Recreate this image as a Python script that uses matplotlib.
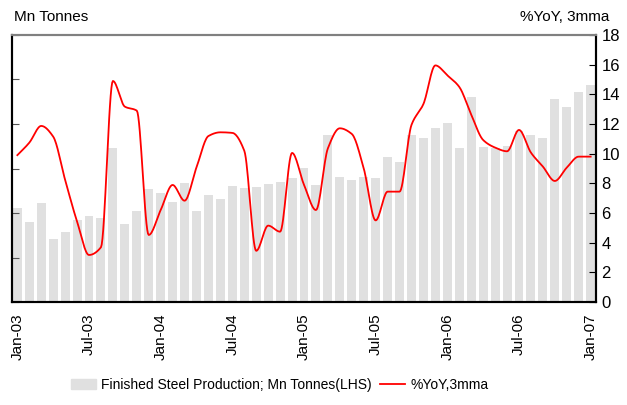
import numpy as np
import matplotlib
matplotlib.use("Agg")
import matplotlib.pyplot as plt
from matplotlib.patches import Patch
from matplotlib.lines import Line2D

plt.rcParams['font.family'] = ['Liberation Sans Narrow', 'Liberation Sans', 'DejaVu Sans']

# monthly, Jan-03 .. Jan-07
months = np.arange(49)
tick_labels = ['Jan-03', 'Jul-03', 'Jan-04', 'Jul-04', 'Jan-05',
               'Jul-05', 'Jan-06', 'Jul-06', 'Jan-07']

production = [6.36, 5.39, 6.67, 4.25, 4.72, 5.53, 5.80, 5.66, 10.38, 5.26,
              6.14, 7.62, 7.35, 6.74, 8.02, 6.14, 7.21, 6.94, 7.82, 7.69,
              7.75, 7.96, 8.09, 8.36, 9.03, 7.89, 11.28, 8.43, 8.23, 8.43,
              8.36, 9.78, 9.44, 11.28, 11.06, 11.73, 12.07, 10.38, 13.84, 10.45,
              10.38, 10.52, 11.5, 11.26, 11.06, 13.69, 13.15, 14.16, 14.65]

yoy_3mma = [9.9, 10.74, 11.87, 11.15, 8.23, 5.42, 3.17, 3.69, 14.9, 13.17,
            12.9, 4.52, 6.2, 7.89, 6.83, 9.08, 11.19, 11.44, 11.4, 10.2,
            3.45, 5.15, 4.74, 10.05, 7.9, 6.2, 10.36, 11.71, 11.33, 9.01,
            5.5, 7.44, 7.44, 11.94, 13.35, 15.95, 15.28, 14.5, 12.63, 10.92,
            10.41, 10.16, 11.6, 10.07, 9.13, 8.16, 9.06, 9.8, 9.8]


def smooth(x, y, n=16):
    # monotone cubic (pchip-style) so the curve does not overshoot
    x = np.asarray(x, float)
    y = np.asarray(y, float)
    h = np.diff(x)
    d = np.diff(y) / h
    m = np.zeros_like(y)
    for i in range(1, len(y) - 1):
        if d[i - 1] * d[i] > 0:
            w1 = 2 * h[i] + h[i - 1]
            w2 = h[i] + 2 * h[i - 1]
            m[i] = (w1 + w2) / (w1 / d[i - 1] + w2 / d[i])
    m[0] = d[0]
    m[-1] = d[-1]
    xs, ys = [], []
    t = np.linspace(0, 1, n, endpoint=False)
    for i in range(len(x) - 1):
        h00 = 2 * t ** 3 - 3 * t ** 2 + 1
        h10 = t ** 3 - 2 * t ** 2 + t
        h01 = -2 * t ** 3 + 3 * t ** 2
        h11 = t ** 3 - t ** 2
        xs.append(x[i] + t * h[i])
        ys.append(h00 * y[i] + h10 * h[i] * m[i] + h01 * y[i + 1] + h11 * h[i] * m[i + 1])
    xs.append([x[-1]])
    ys.append([y[-1]])
    return np.concatenate(xs), np.concatenate(ys)


fig = plt.figure(figsize=(6.27, 4.05), dpi=100)
ax = fig.add_axes([0.0191, 0.2543, 0.9315, 0.6593])

ax.bar(months, production, width=0.75, color='#e0e0e0', zorder=1)
ax.set_xlim(-0.45, 48.45)
ax.set_ylim(0, 18)
ax.set_yticks(np.arange(0, 19, 3))
ax.tick_params(axis='y', direction='in', length=5, color='#555555', labelleft=False)
ax.set_xticks(months[::6])
ax.set_xticklabels(tick_labels, rotation=90, fontsize=11)
ax.tick_params(axis='x', length=0, pad=8)

ax2 = ax.twinx()
sx, sy = smooth(months, yoy_3mma)
ax2.plot(sx, sy, color='red', lw=1.3, zorder=3)
ax2.set_ylim(0, 18)
ax2.set_yticks(np.arange(0, 19, 2))
ax2.tick_params(axis='y', direction='in', length=5, labelsize=12, pad=4)

for a in (ax, ax2):
    a.spines['top'].set_color('#808080')
    a.spines['top'].set_linewidth(1.5)
    a.spines['left'].set_linewidth(1.5)
    a.spines['right'].set_linewidth(1.5)
    a.spines['bottom'].set_linewidth(1.5)

fig.text(0.022, 0.957, 'Mn Tonnes', fontsize=11, va='center', ha='left')
fig.text(0.972, 0.957, '%YoY, 3mma', fontsize=11, va='center', ha='right')

handles = [Patch(color='#e0e0e0'), Line2D([], [], color='red', lw=1.3)]
fig.legend(handles, ['Finished Steel Production; Mn Tonnes(LHS)', '%YoY,3mma'],
           loc='center', bbox_to_anchor=(0.446, 0.05), ncol=2, frameon=False,
           fontsize=10, handlelength=1.8, handletextpad=0.4, columnspacing=0.6)

fig.savefig('out.png', dpi=100)
